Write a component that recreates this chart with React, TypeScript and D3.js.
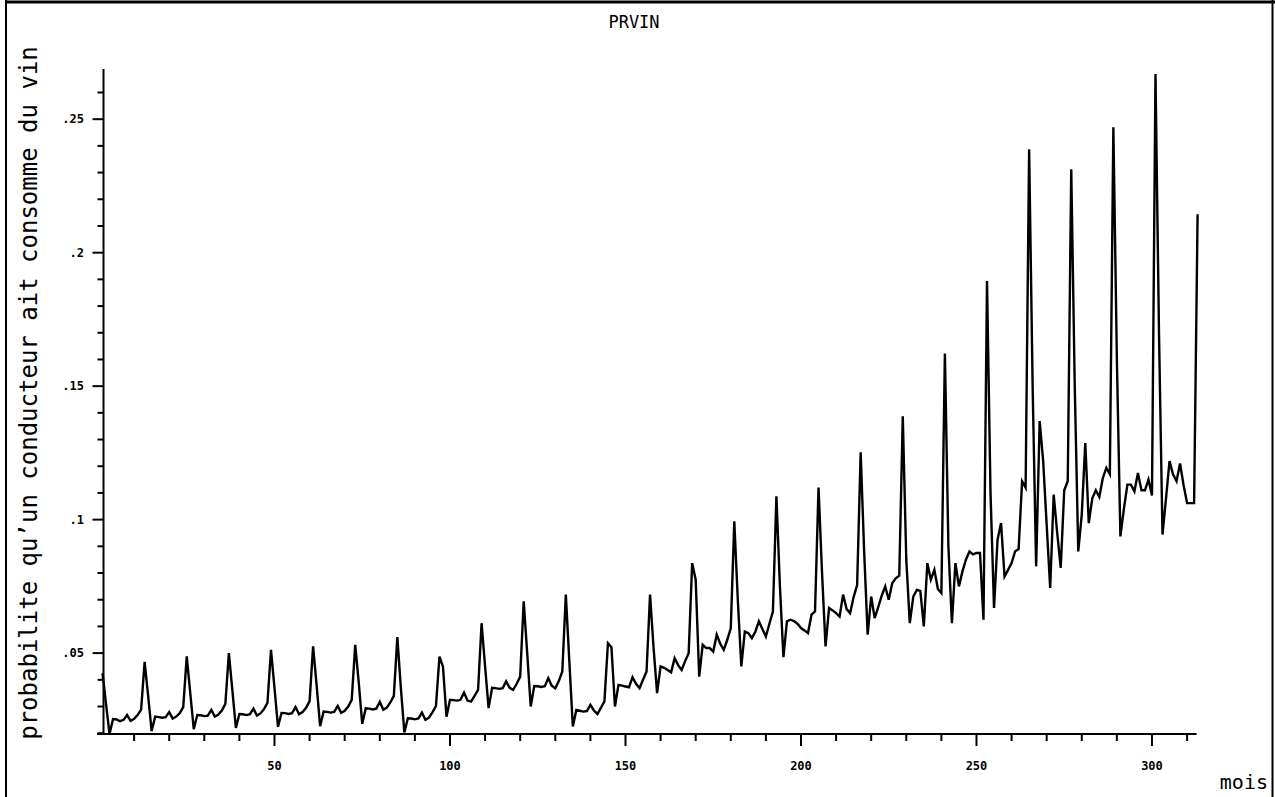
import React from 'react';
import * as d3 from 'd3';

// monthly values, one row per year (peak month first)
const prvin: number[] = [
  0.0425, 0.031, 0.0197, 0.0253, 0.0252, 0.0245, 0.025, 0.0268, 0.0246, 0.0254, 0.0268, 0.0288,
  0.0467, 0.034, 0.0208, 0.0262, 0.026, 0.0258, 0.026, 0.0279, 0.0255, 0.0262, 0.0275, 0.0298,
  0.0488, 0.035, 0.0215, 0.0268, 0.0267, 0.0264, 0.0266, 0.0287, 0.0262, 0.027, 0.0285, 0.031,
  0.05, 0.036, 0.022, 0.0272, 0.0271, 0.0268, 0.0271, 0.0292, 0.0266, 0.0274, 0.029, 0.0314,
  0.0512, 0.037, 0.0224, 0.0276, 0.0275, 0.0272, 0.0275, 0.0298, 0.0271, 0.0279, 0.0295, 0.032,
  0.0525, 0.038, 0.0226, 0.0281, 0.028, 0.0277, 0.028, 0.0302, 0.0276, 0.0284, 0.03, 0.0325,
  0.0531, 0.039, 0.0235, 0.0293, 0.0292, 0.0289, 0.0292, 0.0318, 0.0288, 0.0296, 0.0315, 0.034,
  0.056, 0.037, 0.0203, 0.0256, 0.0255, 0.0252, 0.0255, 0.0277, 0.025, 0.0258, 0.0278, 0.0302,
  0.0487, 0.0449, 0.0262, 0.0325, 0.0324, 0.0322, 0.0325, 0.0352, 0.0322, 0.0318, 0.034, 0.0362,
  0.0612, 0.045, 0.0294, 0.037, 0.0369, 0.0366, 0.0369, 0.0394, 0.037, 0.0362, 0.0385, 0.0412,
  0.0694, 0.05, 0.03, 0.0377, 0.0376, 0.0373, 0.0376, 0.0406, 0.0378, 0.0368, 0.0395, 0.0431,
  0.0719, 0.047, 0.0225, 0.0287, 0.0284, 0.0281, 0.0283, 0.0306, 0.0285, 0.0272, 0.0295, 0.0319,
  0.0537, 0.0522, 0.03, 0.0381, 0.0378, 0.0375, 0.0372, 0.041, 0.0385, 0.0369, 0.04, 0.0431,
  0.0719, 0.052, 0.035, 0.045, 0.0445, 0.0437, 0.0428, 0.0481, 0.0455, 0.0437, 0.047, 0.05,
  0.0837, 0.0775, 0.0412, 0.0531, 0.0519, 0.0519, 0.0506, 0.0569, 0.0535, 0.0512, 0.055, 0.0594,
  0.0994, 0.07, 0.045, 0.0581, 0.0575, 0.0556, 0.058, 0.0619, 0.059, 0.0562, 0.061, 0.0656,
  0.1087, 0.075, 0.0485, 0.0619, 0.0625, 0.062, 0.061, 0.0594, 0.0585, 0.0575, 0.0644, 0.0656,
  0.112, 0.08, 0.0525, 0.0669, 0.066, 0.065, 0.0637, 0.0719, 0.0665, 0.065, 0.071, 0.0755,
  0.1252, 0.088, 0.0569, 0.0712, 0.0631, 0.0672, 0.0715, 0.075, 0.07, 0.0762, 0.078, 0.079,
  0.1387, 0.085, 0.0612, 0.0712, 0.0737, 0.0733, 0.06, 0.0837, 0.0775, 0.0812, 0.074, 0.0725,
  0.1622, 0.09, 0.0612, 0.0837, 0.075, 0.0806, 0.085, 0.0881, 0.087, 0.0875, 0.0875, 0.0625,
  0.1894, 0.11, 0.0669, 0.0925, 0.0987, 0.0787, 0.0812, 0.0837, 0.0881, 0.089, 0.1144, 0.112,
  0.2387, 0.15, 0.0825, 0.1369, 0.122, 0.098, 0.0744, 0.1094, 0.095, 0.0819, 0.111, 0.1144,
  0.2312, 0.15, 0.0881, 0.102, 0.1287, 0.0987, 0.108, 0.111, 0.1085, 0.1156, 0.1194, 0.117,
  0.247, 0.16, 0.0937, 0.104, 0.1131, 0.1131, 0.1106, 0.1175, 0.111, 0.111, 0.115, 0.109,
  0.2669, 0.17, 0.0944, 0.108, 0.1219, 0.117, 0.1144, 0.121, 0.113, 0.1062, 0.1062, 0.1062,
  0.2144,
];

const xMinorTicks = d3.range(10, 311, 10);
const xMajorTicks = [50, 100, 150, 200, 250, 300];
const yMinorTicks = d3.range(2, 27).map(d => d / 100);
const yMajorTicks = [0.05, 0.1, 0.15, 0.2, 0.25];
const yTickLabels = ['.05', '.1', '.15', '.2', '.25'];

const title = 'PRVIN';
const yTitle = 'probabilite qu\u2019un conducteur ait consomme du vin';
const xTitle = 'mois';

const W = 1275;
const H = 797;
const mono = '"DejaVu Sans Mono", monospace';

export default function App() {
  const x = d3.scaleLinear().domain([0, 313]).range([99, 1197.6]);
  const y = d3.scaleLinear().domain([0.0197, 0.2688]).range([734, 69]);

  const line = d3.line<number>()
    .x((_, i) => x(i + 1))
    .y(d => y(d));

  const axisX = x(1) + 1;
  const baseY = y(0.0197);

  return (
    <svg width={W} height={H} style={{ position: 'absolute', left: 0, top: 0, background: '#fff' }}>
      {/* frame */}
      <line x1={5} y1={2} x2={W} y2={2} stroke="#000" strokeWidth={3} />
      <line x1={6} y1={0} x2={6} y2={H} stroke="#000" strokeWidth={2} />
      <line x1={1272.5} y1={0} x2={1272.5} y2={H} stroke="#000" strokeWidth={2} />

      <text x={634} y={28} textAnchor="middle" fontFamily={mono} fontSize={17} fill="#000">{title}</text>

      {/* y axis */}
      <line x1={axisX} y1={y(0.0197)} x2={axisX} y2={y(0.2688)} stroke="#000" strokeWidth={2} />
      {yMinorTicks.map(t => {
        const major = yMajorTicks.some(m => Math.abs(m - t) < 1e-9);
        return (
          <line key={'ym' + t} x1={axisX - (major ? 11 : 6)} x2={axisX} y1={y(t)} y2={y(t)}
            stroke="#000" strokeWidth={2} />
        );
      })}
      {yMajorTicks.map((t, i) => (
        <text key={'yl' + t} x={84} y={y(t)} dy="0.35em" textAnchor="end" fontFamily={mono}
          fontWeight="bold" fontSize={12} fill="#000">{yTickLabels[i]}</text>
      ))}
      <text transform={`translate(37,393) rotate(-90)`} textAnchor="middle" fontFamily={mono}
        fontSize={24} fill="#000">{yTitle}</text>

      {/* x axis */}
      <line x1={x(0) - 2} y1={baseY} x2={x(313) - 1} y2={baseY} stroke="#000" strokeWidth={2} />
      {xMinorTicks.map(t => {
        const major = xMajorTicks.includes(t);
        return (
          <line key={'xm' + t} x1={x(t)} x2={x(t)} y1={baseY} y2={baseY + (major ? 12 : 7)}
            stroke="#000" strokeWidth={2} />
        );
      })}
      {xMajorTicks.map(t => (
        <text key={'xl' + t} x={x(t)} y={770} textAnchor="middle" fontFamily={mono}
          fontWeight="bold" fontSize={12} fill="#000">{t}</text>
      ))}
      <text x={1268} y={789} textAnchor="end" fontFamily={mono} fontSize={20} fill="#000">{xTitle}</text>

      {/* series */}
      <path d={line(prvin) || ''} fill="none" stroke="#000" strokeWidth={2.4} strokeLinejoin="miter" />
    </svg>
  );
}
